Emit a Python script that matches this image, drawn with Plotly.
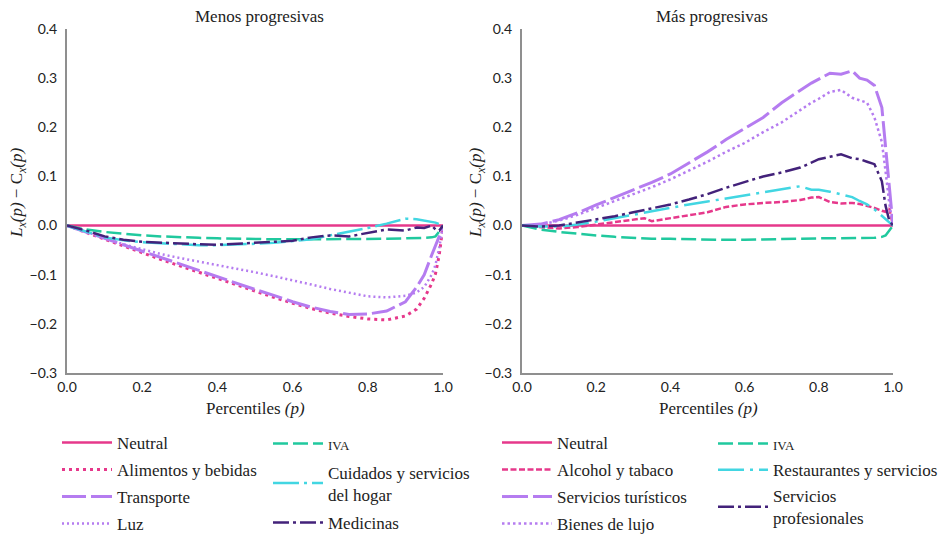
import plotly.graph_objects as go

# ---------------- data ----------------
P_L = [0, 0.05, 0.1, 0.15, 0.2, 0.25, 0.3, 0.35, 0.4, 0.45, 0.5, 0.55, 0.6, 0.65,
       0.7, 0.75, 0.8, 0.85, 0.9, 0.93, 0.95, 0.97, 0.98, 0.99, 1.0]
neutral_L = [0.0] * len(P_L)
alimentos = [0, -0.014, -0.028, -0.042, -0.056, -0.069, -0.082, -0.095, -0.107, -0.12,
             -0.133, -0.146, -0.158, -0.169, -0.178, -0.185, -0.19, -0.192, -0.184,
             -0.17, -0.148, -0.118, -0.098, -0.06, 0]
transporte = [0, -0.013, -0.026, -0.04, -0.053, -0.066, -0.079, -0.092, -0.104, -0.117,
              -0.13, -0.142, -0.155, -0.166, -0.175, -0.181, -0.18, -0.174, -0.155,
              -0.125, -0.1, -0.06, -0.042, -0.022, 0]
luz = [0, -0.013, -0.026, -0.038, -0.048, -0.058, -0.066, -0.073, -0.08, -0.088, -0.095,
       -0.103, -0.111, -0.12, -0.129, -0.137, -0.144, -0.146, -0.143, -0.136, -0.125,
       -0.1, -0.08, -0.045, 0]
iva_L = [0, -0.008, -0.013, -0.017, -0.02, -0.022, -0.024, -0.025, -0.026, -0.027, -0.027,
         -0.028, -0.028, -0.028, -0.028, -0.027, -0.027, -0.027, -0.026, -0.026, -0.025,
         -0.024, -0.022, -0.012, 0]
cuidados = [0, -0.012, -0.024, -0.03, -0.034, -0.036, -0.038, -0.04, -0.04, -0.039, -0.037,
            -0.035, -0.032, -0.028, -0.02, -0.013, -0.005, 0.004, 0.014, 0.013, 0.01,
            0.008, 0.006, 0.003, 0]
medicinas = [0, -0.01, -0.022, -0.029, -0.033, -0.035, -0.036, -0.038, -0.039, -0.037,
             -0.035, -0.034, -0.031, -0.024, -0.02, -0.022, -0.015, -0.008, -0.01, -0.004,
             -0.005, 0.0, -0.008, -0.01, 0]

P_R = [0, 0.05, 0.1, 0.15, 0.2, 0.25, 0.3, 0.33, 0.35, 0.4, 0.45, 0.5, 0.55, 0.6, 0.65,
       0.7, 0.75, 0.78, 0.8, 0.83, 0.86, 0.89, 0.91, 0.93, 0.95, 0.97, 0.98, 0.99, 1.0]
neutral_R = [0.0] * len(P_R)
alcohol = [0, -0.003, -0.006, -0.003, 0.002, 0.006, 0.011, 0.015, 0.009, 0.015, 0.02,
           0.027, 0.038, 0.043, 0.046, 0.048, 0.052, 0.057, 0.058, 0.048, 0.045, 0.046,
           0.044, 0.04, 0.036, 0.03, 0.028, 0.035, 0]
turisticos = [0, 0.003, 0.012, 0.026, 0.042, 0.057, 0.073, 0.082, 0.088, 0.105, 0.127,
              0.15, 0.175, 0.198, 0.22, 0.25, 0.275, 0.29, 0.298, 0.31, 0.308, 0.315,
              0.3, 0.296, 0.285, 0.24, 0.16, 0.075, 0]
lujo = [0, 0.002, 0.01, 0.022, 0.036, 0.05, 0.064, 0.072, 0.078, 0.094, 0.112, 0.13, 0.15,
        0.168, 0.19, 0.21, 0.235, 0.25, 0.258, 0.272, 0.276, 0.26, 0.255, 0.25, 0.22,
        0.17, 0.11, 0.045, 0]
iva_R = [0, -0.008, -0.013, -0.017, -0.02, -0.023, -0.025, -0.026, -0.027, -0.027, -0.028,
         -0.029, -0.029, -0.029, -0.028, -0.027, -0.026, -0.026, -0.026, -0.026, -0.026,
         -0.026, -0.026, -0.026, -0.025, -0.023, -0.02, -0.01, 0]
restaurantes = [0, -0.002, -0.002, 0.002, 0.008, 0.015, 0.022, 0.027, 0.03, 0.037, 0.043,
                0.049, 0.055, 0.061, 0.067, 0.073, 0.08, 0.073, 0.073, 0.069, 0.064,
                0.058, 0.05, 0.043, 0.033, 0.02, 0.012, 0.006, 0]
profesionales = [0, -0.002, 0.0, 0.006, 0.013, 0.019, 0.027, 0.032, 0.035, 0.043, 0.053,
                 0.064, 0.077, 0.089, 0.1, 0.108, 0.118, 0.128, 0.135, 0.14, 0.145, 0.137,
                 0.135, 0.13, 0.125, 0.09, 0.04, 0.01, 0]

X_TICKS = [0.0, 0.2, 0.4, 0.6, 0.8, 1.0]
Y_TICKS = [-0.3, -0.2, -0.1, 0.0, 0.1, 0.2, 0.3, 0.4]

# ---------------- style ----------------
PINK = "#E6388B"
LAV = "#B57CF0"
GREEN = "#20C99E"
CYAN = "#42D6E2"
DARK = "#43227A"
SERIF = "Liberation Serif"
SANS = "Lato"
FS = 17

# the page body has an 8px margin; the figure fills the rest of the window
OFF = 8
W, H = 947 - OFF, 534 - OFF


def px(x):
    return (x - OFF) / W


def py(y):
    return (H - (y - OFF)) / H


fig = go.Figure()


def add(x, y, name, color, dash, width, xa, ya, legend, group):
    fig.add_trace(go.Scatter(
        x=x, y=y, name=name, mode="lines",
        line=dict(color=color, dash=dash, width=width),
        xaxis=xa, yaxis=ya, legend=legend, legendgroup=group,
    ))


iva_txt = "<span style='font-size:13px'>IVA</span>"

# left panel
add(P_L, neutral_L, "Neutral", PINK, "solid", 2.5, "x", "y", "legend", "a1")
add(P_L, alimentos, "Alimentos y bebidas", PINK, "3px,4px", 3, "x", "y", "legend", "a2")
add(P_L, transporte, "Transporte", LAV, "24px,5px", 3, "x", "y", "legend", "a3")
add(P_L, luz, "Luz", LAV, "2px,3px", 2.5, "x", "y", "legend", "a4")
add(P_L, iva_L, iva_txt, GREEN, "15px,5px", 2.5, "x", "y", "legend2", "b1")
add(P_L, cuidados, "Cuidados y servicios<br>del hogar", CYAN, "26px,5px,3px,5px", 2.5,
    "x", "y", "legend2", "b2")
add(P_L, medicinas, "Medicinas", DARK, "16px,4px,3px,4px", 2.5, "x", "y", "legend2", "b3")

# right panel
add(P_R, neutral_R, "Neutral", PINK, "solid", 2.5, "x2", "y2", "legend3", "c1")
add(P_R, alcohol, "Alcohol y tabaco", PINK, "6px,2.5px", 2.5, "x2", "y2", "legend3", "c2")
add(P_R, turisticos, "Servicios turísticos", LAV, "26px,5px", 3, "x2", "y2", "legend3", "c3")
add(P_R, lujo, "Bienes de lujo", LAV, "2.5px,3px", 2.5, "x2", "y2", "legend3", "c4")
add(P_R, iva_R, iva_txt, GREEN, "15px,5px", 2.5, "x2", "y2", "legend4", "d1")
add(P_R, restaurantes, "Restaurantes y servicios", CYAN, "26px,6px,3px,6px", 2.5,
    "x2", "y2", "legend4", "d2")
add(P_R, profesionales, "Servicios<br>profesionales", DARK, "16px,4px,3px,4px", 2.5,
    "x2", "y2", "legend4", "d3")

axis_common = dict(
    showgrid=False, zeroline=False, showline=True, linecolor="#8f8f8f", linewidth=2,
    ticks="", tickfont=dict(family=SANS, size=14, color="#222"), automargin=False,
)

ydom = [py(373), py(29)]

fig.update_layout(
    width=W, height=H,
    margin=dict(l=0, r=0, t=0, b=0, autoexpand=False),
    paper_bgcolor="white", plot_bgcolor="white",
    font=dict(family=SERIF, size=FS, color="#222"),
    xaxis=dict(domain=[px(67), px(443)], range=[0, 1], tickvals=X_TICKS,
               tickformat=".1f", anchor="y", ticklabelstandoff=0, **axis_common),
    yaxis=dict(domain=ydom, range=[-0.3, 0.4], tickvals=Y_TICKS, tickformat=".1f",
               anchor="x", ticklabelstandoff=5, **axis_common),
    xaxis2=dict(domain=[px(522), px(893)], range=[0, 1], tickvals=X_TICKS,
                tickformat=".1f", anchor="y2", ticklabelstandoff=0, **axis_common),
    yaxis2=dict(domain=ydom, range=[-0.3, 0.4], tickvals=Y_TICKS, tickformat=".1f",
                anchor="x2", ticklabelstandoff=5, **axis_common),
    showlegend=True,
)

leg_common = dict(orientation="v", xanchor="left", yanchor="top", bgcolor="rgba(0,0,0,0)",
                  font=dict(family=SERIF, size=FS, color="#222"), itemwidth=50,
                  traceorder="grouped")
fig.update_layout(
    legend=dict(x=px(117 - 60), y=py(425), tracegroupgap=1.9, **leg_common),
    legend2=dict(x=px(328 - 60), y=py(426), tracegroupgap=3.3, **leg_common),
    legend3=dict(x=px(557 - 60), y=py(425), tracegroupgap=1.9, **leg_common),
    legend4=dict(x=px(773 - 60), y=py(426), tracegroupgap=1.0, **leg_common),
)

ann = [
    dict(text="Menos progresivas", x=px(259), y=py(16)),
    dict(text="Más progresivas", x=px(712), y=py(16)),
    dict(text="Percentiles <i>(p)</i>", x=px(255), y=py(408)),
    dict(text="Percentiles <i>(p)</i>", x=px(708), y=py(408)),
]
for a in ann:
    fig.add_annotation(xref="paper", yref="paper", showarrow=False,
                       xanchor="center", yanchor="middle",
                       font=dict(family=SERIF, size=FS, color="#222"), **a)

ytitle = "<i>L<sub>x</sub>(p)</i> − C<sub><i>x</i></sub><i>(p)</i>"
for xp in (18, 477):
    fig.add_annotation(xref="paper", yref="paper", showarrow=False, textangle=-90,
                       x=px(xp), y=py(193), xanchor="center", yanchor="middle",
                       text=ytitle, font=dict(family=SERIF, size=FS, color="#222"))

fig.write_html("out.html")
